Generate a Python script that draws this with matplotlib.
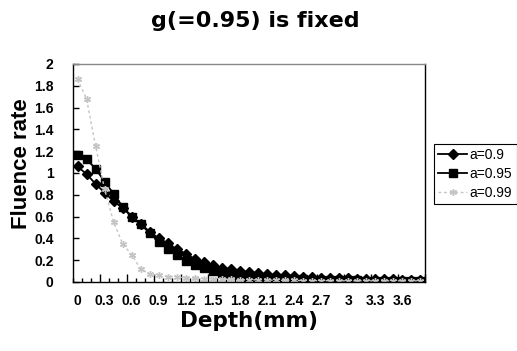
import matplotlib
matplotlib.use("Agg")
import matplotlib.pyplot as plt
import numpy as np
from matplotlib.ticker import FixedLocator

plt.rcParams['font.family'] = ['Liberation Sans', 'DejaVu Sans']

depth = [round(0.1 * i, 1) for i in range(39)]
a09 = [1.06, 0.99, 0.90, 0.82, 0.74, 0.68, 0.60, 0.53, 0.46, 0.40,
       0.355, 0.30, 0.26, 0.21, 0.185, 0.155, 0.13, 0.115, 0.10, 0.09,
       0.08, 0.07, 0.065, 0.06, 0.055, 0.05, 0.045, 0.04, 0.04, 0.035,
       0.035, 0.03, 0.03, 0.028, 0.025, 0.025, 0.022, 0.02, 0.02]
a095 = [1.165, 1.125, 1.04, 0.92, 0.81, 0.69, 0.60, 0.53, 0.45, 0.37,
        0.30, 0.25, 0.19, 0.155, 0.125, 0.10, 0.085, 0.07, 0.06, 0.05,
        0.045, 0.04, 0.035, 0.03, 0.028, 0.025, 0.022, 0.02, 0.018, 0.016,
        0.015, 0.014, 0.013, 0.012, 0.011, 0.01, 0.01, 0.01, 0.01]
a099 = [1.86, 1.68, 1.25, 0.85, 0.55, 0.35, 0.25, 0.12, 0.07, 0.06,
        0.05, 0.045, 0.04, 0.035, 0.03, 0.03, 0.025, 0.025, 0.02, 0.02,
        0.02, 0.018, 0.016, 0.015, 0.014, 0.013, 0.012, 0.012, 0.011, 0.011,
        0.01, 0.01, 0.01, 0.01, 0.01, 0.01, 0.01, 0.01, 0.01]
series_labels = ["a=0.9", "a=0.95", "a=0.99"]
xtick_labels = ["0", "0.3", "0.6", "0.9", "1.2", "1.5", "1.8", "2.1",
                "2.4", "2.7", "3", "3.3", "3.6"]
yticks = [0, 0.2, 0.4, 0.6, 0.8, 1, 1.2, 1.4, 1.6, 1.8, 2]
ytick_labels = ["0", "0.2", "0.4", "0.6", "0.8", "1", "1.2", "1.4", "1.6", "1.8", "2"]

fig = plt.figure(figsize=(5.17, 3.51), dpi=100)
ax = fig.add_axes([0.1412, 0.1966, 0.6808, 0.6211])

x = np.arange(len(depth))
ax.plot(x, a09, color='black', lw=1.3, marker='D', ms=5.5, label=series_labels[0])
ax.plot(x, a095, color='black', lw=1.3, marker='s', ms=6, label=series_labels[1])
ax.plot(x, a099, color='#c4c4c4', lw=1.0, ls=(0, (2, 2)), marker=(6, 2, 0), ms=5,
        mew=1.0, label=series_labels[2])

ax.set_xlim(-0.5, len(depth) - 0.5)
ax.set_ylim(0, 2)

# category boundary ticks (inside)
ax.xaxis.set_major_locator(FixedLocator(np.arange(2.5, len(depth), 3)))
ax.xaxis.set_minor_locator(FixedLocator(np.arange(-0.5, len(depth), 1)))
ax.tick_params(axis='x', which='major', direction='in', length=6, width=1, labelbottom=False)
ax.tick_params(axis='x', which='minor', direction='in', length=3, width=1)

sec = ax.secondary_xaxis('bottom')
sec.set_xticks(np.arange(0, len(depth), 3)[:len(xtick_labels)])
sec.set_xticklabels(xtick_labels, fontweight='bold')
sec.tick_params(length=0, pad=9, labelsize=10)
sec.spines['bottom'].set_visible(False)

ax.set_yticks(yticks)
ax.set_yticklabels(ytick_labels, fontweight='bold')
ax.tick_params(axis='y', direction='in', length=4, width=1, labelsize=10, pad=14)

for s in ax.spines.values():
    s.set_linewidth(1.0)
ax.spines['top'].set_color('#888888')

fig.text(0.493, 0.94, "g(=0.95) is fixed", ha='center', va='center',
         fontsize=16, fontweight='bold', family=['DejaVu Sans'])
fig.text(0.042, 0.535, "Fluence rate", ha='center', va='center', rotation=90,
         fontsize=16, fontweight='bold')
fig.text(0.481, 0.086, "Depth(mm)", ha='center', va='center',
         fontsize=15.5, fontweight='bold', family=['DejaVu Sans'])

leg = fig.legend(loc='upper left', bbox_to_anchor=(0.839, 0.59), fontsize=10,
                 frameon=True, fancybox=False, edgecolor='black', framealpha=1,
                 handlelength=2.1, handletextpad=0.2, borderpad=0.3,
                 labelspacing=0.35, borderaxespad=0)
leg.get_frame().set_linewidth(0.8)

fig.savefig("out.png", dpi=100)
